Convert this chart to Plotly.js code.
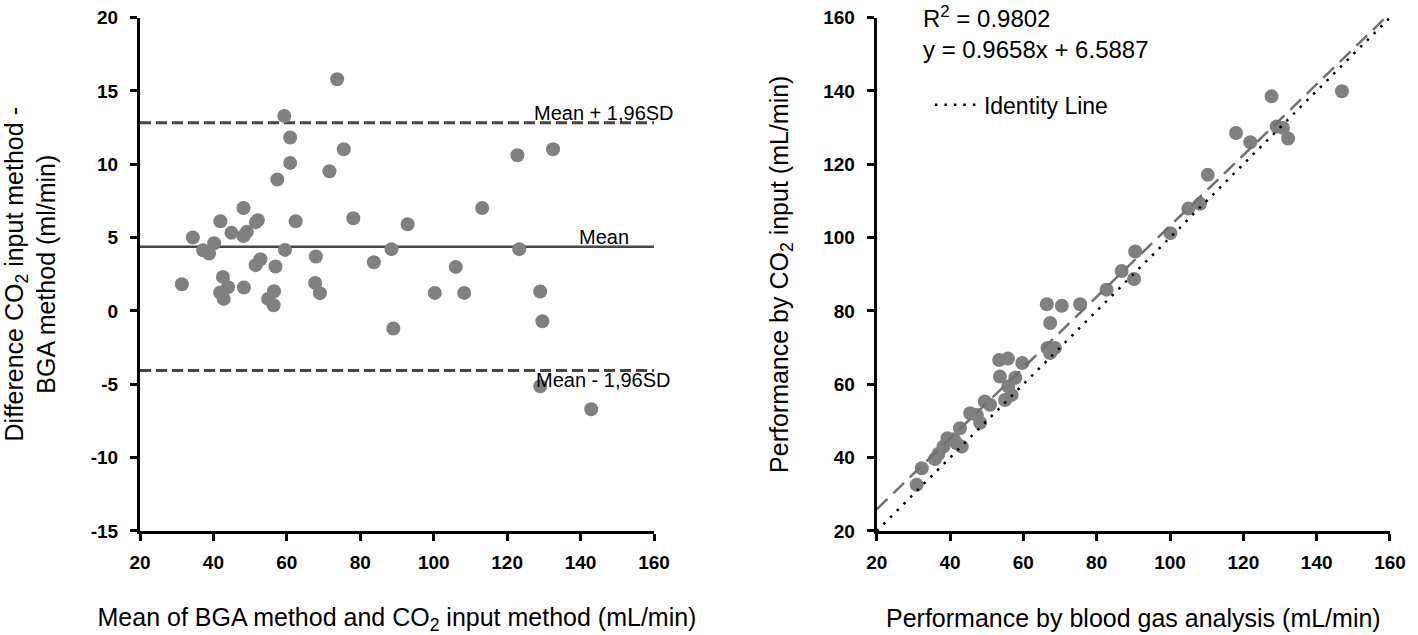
<!DOCTYPE html>
<html>
<head>
<meta charset="utf-8">
<script src="https://cdn.plot.ly/plotly-3.0.1.min.js"></script>
<style>html,body{margin:0;padding:0;background:#fff;}#chart{width:1418px;height:635px;}</style>
</head>
<body>
<div id="chart"></div>
<script>
// Bland-Altman (left panel): mean of methods vs difference
const baMean = [31.4,34.4,37.2,38.8,40.2,41.9,42.6,44.0,41.8,42.8,44.9,48.2,49.1,48.2,48.3,52.1,51.6,52.8,51.5,56.9,56.5,54.9,56.4,57.4,59.3,60.9,60.9,59.5,62.4,67.9,67.7,69.0,71.6,73.7,75.5,78.1,83.7,88.5,89.0,92.9,100.3,106.0,108.3,113.2,122.8,123.3,129.0,129.6,129.0,132.5,142.9];
const baDiff = [1.82,5.00,4.14,3.91,4.61,6.11,2.32,1.62,1.25,0.82,5.32,7.02,5.39,5.11,1.60,6.18,6.05,3.52,3.12,3.03,1.34,0.82,0.39,8.96,13.29,11.82,10.09,4.16,6.11,3.71,1.91,1.21,9.52,15.79,11.02,6.32,3.32,4.21,-1.20,5.91,1.23,3.00,1.23,7.02,10.61,4.21,1.32,-0.70,-5.13,11.02,-6.70];
const meanDiff = 4.38;
const upperLoA = 12.82;
const lowerLoA = -4.06;
const baXRange = [20, 160];
const baYTicks = [-15, -10, -5, 0, 5, 10, 15, 20];
const baYTickText = ["-15", "-10", "-5", "0", "5", "10", "15", "20"];

// Correlation (right panel)
const bga = [30.9,32.3,35.9,36.8,38.2,39.3,41.0,41.8,43.2,42.7,48.2,45.5,47.3,49.5,50.9,55.0,56.8,55.9,53.6,57.8,53.4,55.8,59.7,66.6,68.6,67.3,67.3,66.4,70.5,75.5,82.7,86.8,90.2,90.5,100.1,105.0,108.2,110.3,118.0,121.9,127.7,129.1,130.8,132.2,146.9];
const co2 = [32.6,37.1,39.6,41.0,43.0,45.3,45.0,43.9,43.0,48.0,49.5,52.1,51.6,55.3,54.4,55.7,57.1,59.4,62.1,61.8,66.6,67.0,65.8,69.9,69.9,68.5,76.7,81.8,81.4,81.8,85.8,90.9,88.7,96.2,101.2,107.9,109.2,117.1,128.5,126.0,138.5,130.3,129.9,127.0,139.9];
const slope = 0.9658, intercept = 6.5887, r2 = 0.9802;
const lineX = [20, 160];

const font = "Liberation Sans, Arial, sans-serif";
const dotColor = "#808080";

const traces = [
  {x: baXRange, y: [upperLoA, upperLoA], mode: "lines", xaxis: "x", yaxis: "y", line: {color: "#474747", width: 3, dash: "11px,5px"}, showlegend: false, hoverinfo: "skip"},
  {x: baXRange, y: [lowerLoA, lowerLoA], mode: "lines", xaxis: "x", yaxis: "y", line: {color: "#474747", width: 3, dash: "11px,5px"}, showlegend: false, hoverinfo: "skip"},
  {x: baXRange, y: [meanDiff, meanDiff], mode: "lines", xaxis: "x", yaxis: "y", line: {color: "#474747", width: 2.5}, showlegend: false, hoverinfo: "skip"},
  {x: baMean, y: baDiff, mode: "markers", xaxis: "x", yaxis: "y", marker: {color: dotColor, size: 14}, showlegend: false, cliponaxis: false},
  {x: bga, y: co2, mode: "markers", xaxis: "x2", yaxis: "y2", marker: {color: dotColor, size: 14}, showlegend: false},
  {x: lineX, y: lineX.map(v => slope * v + intercept), mode: "lines", xaxis: "x2", yaxis: "y2", line: {color: "#707070", width: 2.5, dash: "15px,8px"}, showlegend: false, hoverinfo: "skip"},
  {x: lineX, y: lineX, mode: "lines", name: "Identity Line", xaxis: "x2", yaxis: "y2", line: {color: "#000", width: 2.5, dash: "2.5px,7px"}, showlegend: true, hoverinfo: "skip"}
];

const axisCommon = {
  showline: true, linecolor: "#000", linewidth: 3, mirror: false,
  ticks: "outside", ticklen: 7, tickwidth: 3, tickcolor: "#000",
  showgrid: false, zeroline: false,
  tickfont: {family: font, size: 19, color: "#000", weight: "bold"},
  fixedrange: true
};
const xTick = {ticklabelstandoff: 5};
const yTick = {ticklabelstandoff: 8};

const yDom = [0.15285, 0.98780];
const titleFont = {family: font, size: 25, color: "#000"};

const layout = {
  width: 1418, height: 635,
  margin: {l: 10, r: 10, t: 10, b: 10},
  paper_bgcolor: "#fff", plot_bgcolor: "#fff",
  font: {family: font, color: "#000"},
  xaxis: Object.assign({}, axisCommon, xTick, {domain: [0.09299, 0.46066], range: baXRange, dtick: 20, tick0: 20, anchor: "y",
    title: {text: "Mean of BGA method and CO<sub>2</sub> input method (mL/min)", font: titleFont, standoff: 38}}),
  yaxis: Object.assign({}, axisCommon, yTick, {domain: yDom, range: [-15, 20], tickmode: "array", tickvals: baYTicks, ticktext: baYTickText, anchor: "x",
    title: {text: "Difference CO<sub>2</sub> input method -<br>BGA method (ml/min)", font: titleFont, standoff: 28}}),
  xaxis2: Object.assign({}, axisCommon, xTick, {domain: [0.61996, 0.98712], range: [20, 160], dtick: 20, tick0: 20, anchor: "y2",
    title: {text: "Performance by blood gas analysis (mL/min)", font: titleFont, standoff: 38}}),
  yaxis2: Object.assign({}, axisCommon, yTick, {domain: yDom, range: [20, 160], dtick: 20, tick0: 20, anchor: "x2",
    title: {text: "Performance by CO<sub>2</sub> input (mL/min)", font: titleFont, standoff: 28}}),
  legend: {x: 0.658, y: 0.846, xanchor: "left", yanchor: "middle", bgcolor: "rgba(0,0,0,0)", font: {family: font, size: 23, color: "#000"}, itemwidth: 44},
  annotations: [
    {xref: "x", yref: "y", x: 126.7, y: upperLoA, text: "Mean + 1,96SD", showarrow: false, xanchor: "left", yanchor: "bottom", yshift: -3, font: {family: font, size: 20, color: "#000"}},
    {xref: "x", yref: "y", x: 138.9, y: meanDiff, text: "Mean", showarrow: false, xanchor: "left", yanchor: "bottom", yshift: -3, font: {family: font, size: 20, color: "#000"}},
    {xref: "x", yref: "y", x: 127.3, y: lowerLoA, text: "Mean - 1,96SD", showarrow: false, xanchor: "left", yanchor: "top", yshift: 3, font: {family: font, size: 20, color: "#000"}},
    {xref: "paper", yref: "paper", x: 0.652, y: 1.016, text: "R<sup>2</sup> = " + r2.toFixed(4) + "<br>y = " + slope.toFixed(4) + "x + " + intercept.toFixed(4), showarrow: false, xanchor: "left", yanchor: "top", align: "left", font: {family: font, size: 24, color: "#000"}}
  ]
};

Plotly.newPlot("chart", traces, layout, {displayModeBar: false, staticPlot: true});
</script>
</body>
</html>
